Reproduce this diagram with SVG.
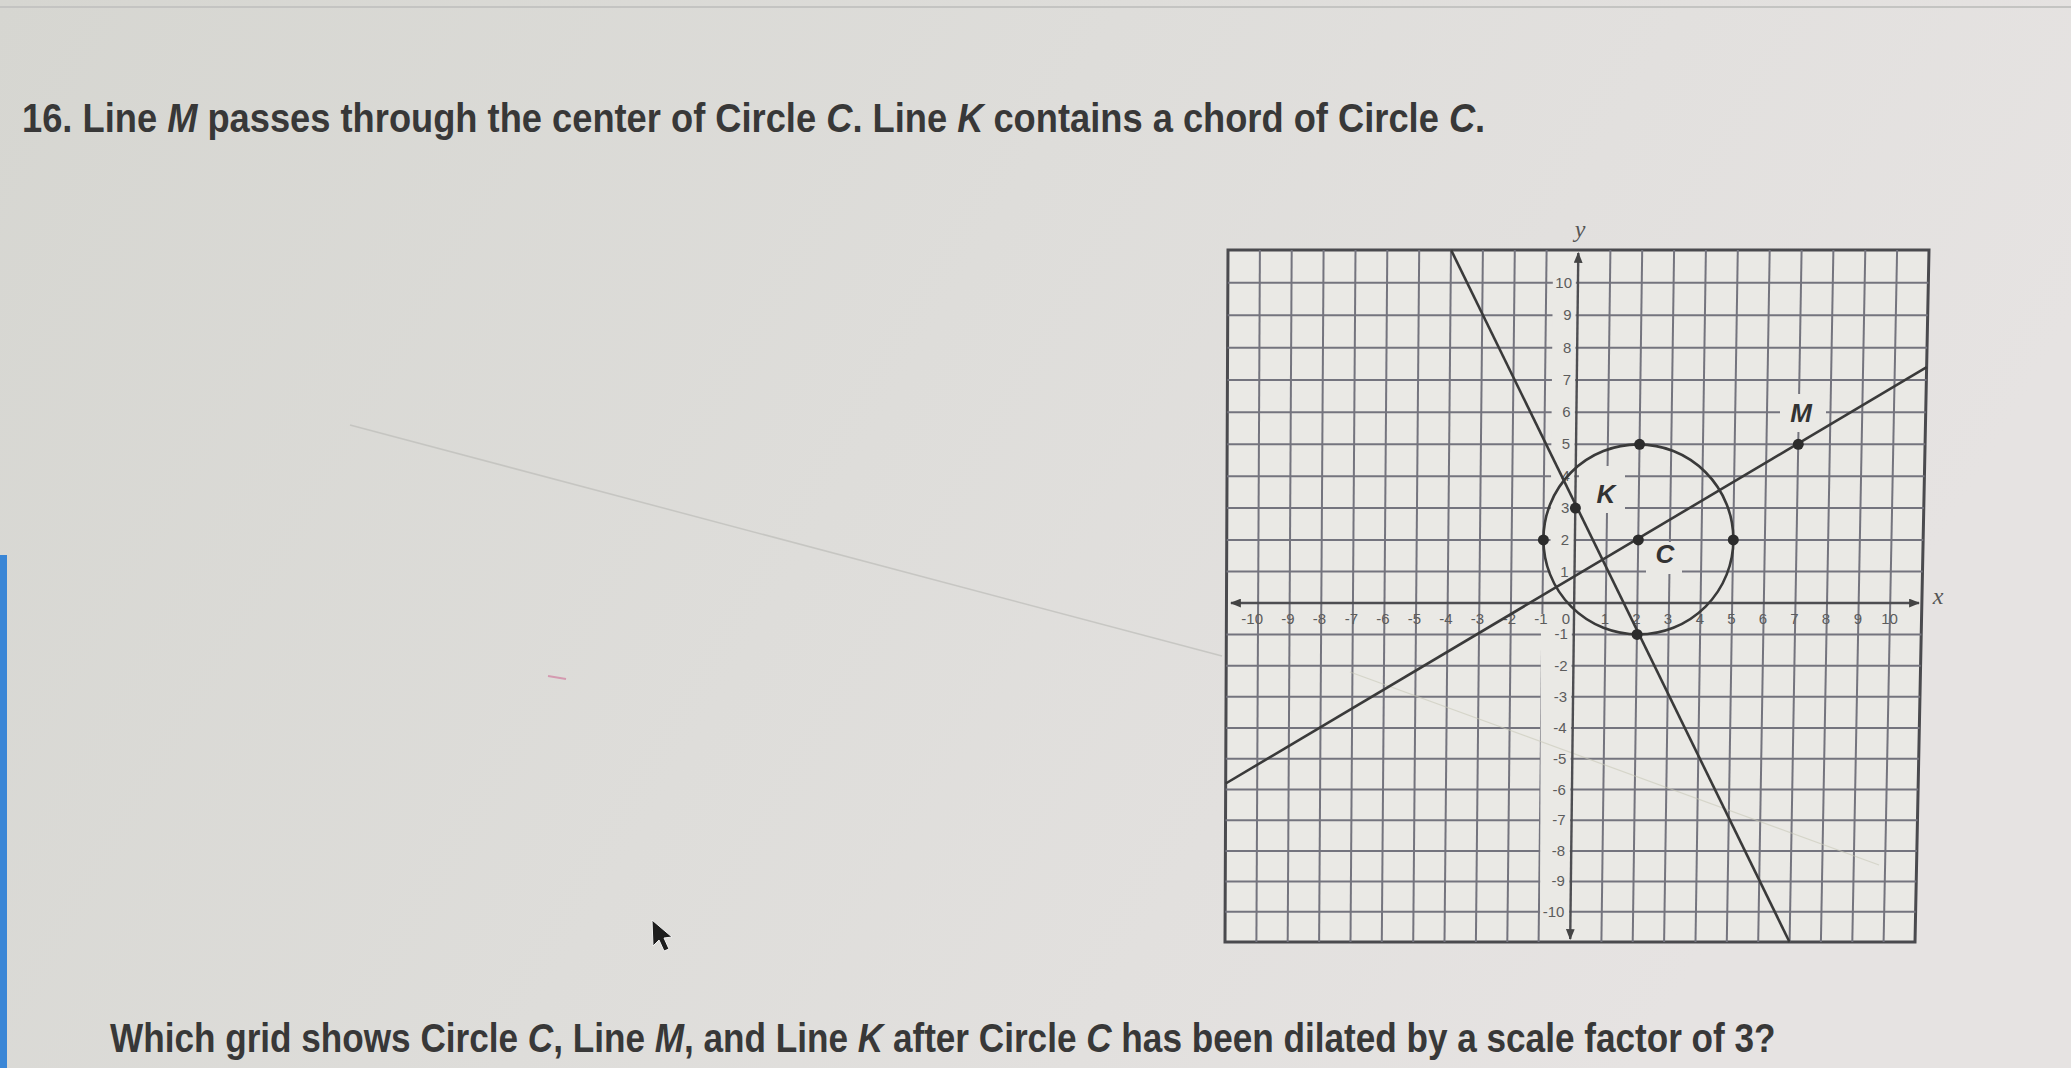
<svg xmlns="http://www.w3.org/2000/svg" width="2071" height="1068" viewBox="0 0 2071 1068">
<defs>
<linearGradient id="bg" x1="0" y1="0" x2="1" y2="0.3">
<stop offset="0" stop-color="#d6d6d1"/>
<stop offset="0.5" stop-color="#dedddA"/>
<stop offset="1" stop-color="#e6e3e2"/>
</linearGradient>
<marker id="arr" viewBox="0 0 10 8" refX="9" refY="4" markerWidth="11" markerHeight="9" markerUnits="userSpaceOnUse" orient="auto-start-reverse">
<path d="M0,0 L10,4 L0,8 z" fill="#444"/>
</marker>
<style>
.title{font-family:"Liberation Sans",Arial,sans-serif;font-weight:bold;font-size:40px;fill:#383838}
.it{font-style:italic}
.grid{stroke:#74747e;stroke-width:2;fill:none}
.border{stroke:#4a4a4e;stroke-width:3;fill:#eae9e5}
.axis{stroke:#4e4e52;stroke-width:2.4;fill:none}
.curve{stroke:#3a3a3a;stroke-width:2.6;fill:none}
.dot{fill:#2c2c2c}
.lab{font-family:"Liberation Sans",Arial,sans-serif;font-size:15px;fill:#5c5c5c}
.xl{text-anchor:end}
.xm{text-anchor:middle}
.var{font-family:"Liberation Sans",Arial,sans-serif;font-weight:bold;font-style:italic;font-size:26px;fill:#333;text-anchor:middle}
.ax{font-family:"Liberation Serif","Times New Roman",serif;font-style:italic;font-size:24px;fill:#555;text-anchor:middle}
.blank{fill:#eae9e5}
</style>
</defs>
<rect x="0" y="0" width="2071" height="1068" fill="url(#bg)"/>
<line x1="0" y1="7" x2="2071" y2="7" stroke="#c4c4c2" stroke-width="2"/>
<rect x="0" y="555" width="7" height="513" fill="#3a86d6"/>
<line x1="350" y1="425" x2="1222" y2="656" stroke="#bdbdb9" stroke-width="1.5" opacity="0.7"/>
<line x1="548" y1="676" x2="566" y2="679" stroke="#d49ab0" stroke-width="2"/>

<text class="title" transform="scale(0.907 1)" x="24.3" y="132">16. Line <tspan class="it">M</tspan> passes through the center of Circle <tspan class="it">C</tspan>. Line <tspan class="it">K</tspan> contains a chord of Circle <tspan class="it">C</tspan>.</text>

<g id="grid">
<polygon class="border" points="1228,250 1929,250 1915,942 1225,942"/>
<g class="grid">
<line x1="1259.9" y1="250" x2="1256.4" y2="942"/>
<line x1="1291.7" y1="250" x2="1287.7" y2="942"/>
<line x1="1323.6" y1="250" x2="1319.1" y2="942"/>
<line x1="1355.5" y1="250" x2="1350.5" y2="942"/>
<line x1="1387.3" y1="250" x2="1381.8" y2="942"/>
<line x1="1419.2" y1="250" x2="1413.2" y2="942"/>
<line x1="1451.0" y1="250" x2="1444.5" y2="942"/>
<line x1="1482.9" y1="250" x2="1475.9" y2="942"/>
<line x1="1514.8" y1="250" x2="1507.3" y2="942"/>
<line x1="1546.6" y1="250" x2="1538.6" y2="942"/>
<line x1="1610.4" y1="250" x2="1601.4" y2="942"/>
<line x1="1642.2" y1="250" x2="1632.7" y2="942"/>
<line x1="1674.1" y1="250" x2="1664.1" y2="942"/>
<line x1="1705.9" y1="250" x2="1695.5" y2="942"/>
<line x1="1737.8" y1="250" x2="1726.8" y2="942"/>
<line x1="1769.7" y1="250" x2="1758.2" y2="942"/>
<line x1="1801.6" y1="250" x2="1789.6" y2="942"/>
<line x1="1833.4" y1="250" x2="1820.9" y2="942"/>
<line x1="1865.3" y1="250" x2="1852.3" y2="942"/>
<line x1="1897.1" y1="250" x2="1883.6" y2="942"/>
<line x1="1227.9" y1="282.7" x2="1928.4" y2="282.7"/>
<line x1="1227.7" y1="315.3" x2="1927.7" y2="315.3"/>
<line x1="1227.6" y1="347.7" x2="1927.1" y2="347.7"/>
<line x1="1227.5" y1="380.0" x2="1926.5" y2="380.0"/>
<line x1="1227.3" y1="412.2" x2="1925.8" y2="412.2"/>
<line x1="1227.2" y1="444.3" x2="1925.2" y2="444.3"/>
<line x1="1227.0" y1="476.3" x2="1924.5" y2="476.3"/>
<line x1="1226.9" y1="508.1" x2="1923.9" y2="508.1"/>
<line x1="1226.8" y1="539.9" x2="1923.3" y2="539.9"/>
<line x1="1226.6" y1="571.5" x2="1922.6" y2="571.5"/>
<line x1="1226.4" y1="634.4" x2="1921.4" y2="634.4"/>
<line x1="1226.2" y1="665.7" x2="1920.7" y2="665.7"/>
<line x1="1226.1" y1="696.8" x2="1920.1" y2="696.8"/>
<line x1="1226.0" y1="727.9" x2="1919.5" y2="727.9"/>
<line x1="1225.8" y1="758.8" x2="1918.8" y2="758.8"/>
<line x1="1225.7" y1="789.6" x2="1918.2" y2="789.6"/>
<line x1="1225.5" y1="820.3" x2="1917.5" y2="820.3"/>
<line x1="1225.4" y1="850.9" x2="1916.9" y2="850.9"/>
<line x1="1225.3" y1="881.4" x2="1916.3" y2="881.4"/>
<line x1="1225.1" y1="911.7" x2="1915.6" y2="911.7"/>
</g>
<polygon class="blank" points="1553,262 1576,262 1573.5,593 1550,593"/>
<polygon class="blank" points="1541,614 1572,614 1569,936 1540,936"/>
<line x1="1350" y1="672" x2="1879" y2="865" stroke="#c9c9b8" stroke-width="1.2" opacity="0.6"/>
</g>

<g id="axis-labels">
<g class="lab xl">
<text x="1263" y="624">-10</text>
<text x="1294.5" y="624">-9</text>
<text x="1326" y="624">-8</text>
<text x="1358" y="624">-7</text>
<text x="1389.5" y="624">-6</text>
<text x="1421" y="624">-5</text>
<text x="1452.5" y="624">-4</text>
<text x="1484" y="624">-3</text>
<text x="1516" y="624">-2</text>
<text x="1547.5" y="624">-1</text>
</g>
<g class="lab xm">
<text x="1566" y="624">0</text>
<text x="1605" y="624">1</text>
<text x="1636.5" y="624">2</text>
<text x="1668" y="624">3</text>
<text x="1700" y="624">4</text>
<text x="1731.5" y="624">5</text>
<text x="1763" y="624">6</text>
<text x="1794.5" y="624">7</text>
<text x="1826" y="624">8</text>
<text x="1858" y="624">9</text>
<text x="1889.5" y="624">10</text>
</g>
<g class="lab xl">
<text x="1572" y="287.7">10</text>
<text x="1571.7" y="320.3">9</text>
<text x="1571.3" y="352.7">8</text>
<text x="1571" y="385">7</text>
<text x="1570.6" y="417.2">6</text>
<text x="1570.2" y="449.3">5</text>
<text x="1569.8" y="481.3">4</text>
<text x="1569.4" y="513.1">3</text>
<text x="1569" y="544.9">2</text>
<text x="1568.6" y="576.5">1</text>
<text x="1567.9" y="639.4">-1</text>
<text x="1567.5" y="670.7">-2</text>
<text x="1567.1" y="701.8">-3</text>
<text x="1566.7" y="732.9">-4</text>
<text x="1566.3" y="763.8">-5</text>
<text x="1565.9" y="794.6">-6</text>
<text x="1565.5" y="825.3">-7</text>
<text x="1565.2" y="855.9">-8</text>
<text x="1564.8" y="886.4">-9</text>
<text x="1564.4" y="916.7">-10</text>
</g>
<text class="ax" x="1580" y="237">y</text>
<text class="ax" x="1938" y="604">x</text>
</g>

<g id="label-boxes">
<rect class="blank" x="1579" y="466" width="46" height="47"/>
<rect class="blank" x="1646" y="542" width="36" height="32"/>
<rect class="blank" x="1780" y="394" width="46" height="38"/>
</g>

<g id="connectors">
<line class="axis" x1="1231" y1="603" x2="1919" y2="603" marker-start="url(#arr)" marker-end="url(#arr)"/>
<line class="axis" x1="1578.3" y1="253" x2="1570.2" y2="939" marker-start="url(#arr)" marker-end="url(#arr)"/>
<line id="line-K" class="curve" x1="1451.1" y1="250" x2="1789.5" y2="942"/>
<line id="line-M" class="curve" x1="1225.7" y1="783.5" x2="1926.7" y2="367.1"/>
</g>

<g id="circle-C">
<circle class="curve" cx="1638.4" cy="539.4" r="95"/>
<circle class="dot" cx="1638.3" cy="539.9" r="5.5"/>
<circle class="dot" cx="1639.6" cy="444.3" r="5.5"/>
<circle class="dot" cx="1637.1" cy="634.4" r="5.5"/>
<circle class="dot" cx="1543.4" cy="539.9" r="5.5"/>
<circle class="dot" cx="1733.3" cy="539.9" r="5.5"/>
<text class="var" x="1665" y="563">C</text>
</g>
<g id="point-K">
<circle class="dot" cx="1575.4" cy="508.1" r="5.5"/>
<text class="var" x="1606" y="503">K</text>
</g>
<g id="point-M">
<circle class="dot" cx="1798.3" cy="444.3" r="5.5"/>
<text class="var" x="1801" y="422">M</text>
</g>

<text class="title" transform="scale(0.8787 1)" x="125.2" y="1052">Which grid shows Circle <tspan class="it">C</tspan>, Line <tspan class="it">M</tspan>, and Line <tspan class="it">K</tspan> after Circle <tspan class="it">C</tspan> has been dilated by a scale factor of 3?</text>

<polygon points="652,920 653,946 659,940 664,951 669,949 664,938 672,937" fill="#1e1e1e" stroke="#f2f2f2" stroke-width="1"/>
</svg>
